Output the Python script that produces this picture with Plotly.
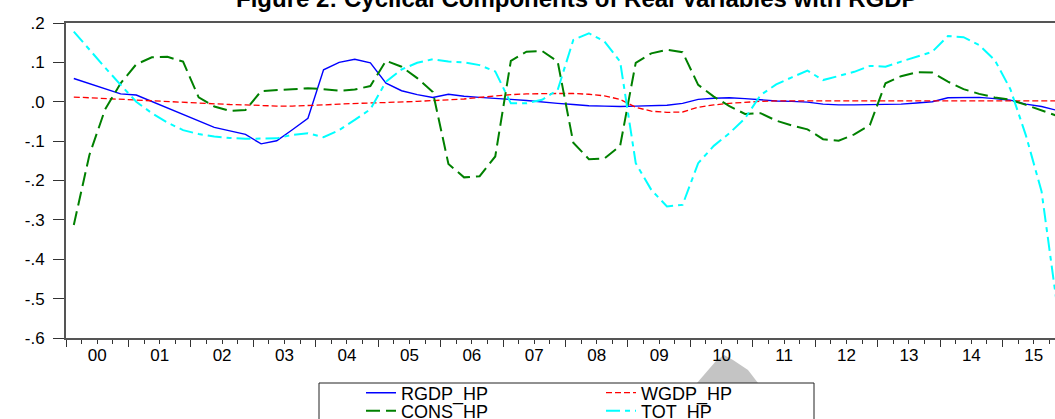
import plotly.graph_objects as go

years = [f"{y:02d}" for y in range(0, 16)]
quarters = list(range(64))  # 2000Q1 .. 2015Q4 as quarter index

rgdp_hp = [0.059, 0.046, 0.033, 0.020, 0.017, 0.001, -0.015, -0.032, -0.048, -0.065, -0.074, -0.083,
           -0.107, -0.099, -0.071, -0.042, 0.081, 0.100, 0.108, 0.099, 0.047, 0.028, 0.018, 0.011,
           0.019, 0.014, 0.011, 0.009, 0.006, 0.003, -0.001, -0.004, -0.007, -0.010, -0.011, -0.012,
           -0.011, -0.010, -0.009, -0.004, 0.006, 0.009, 0.010, 0.008, 0.005, 0.002, 0.001, -0.001,
           -0.006, -0.008, -0.008, -0.007, -0.007, -0.006, -0.003, 0.000, 0.010, 0.011, 0.011, 0.008,
           0.004, -0.006, -0.012, -0.022]

wgdp_hp = [0.012, 0.010, 0.008, 0.006, 0.004, 0.002, 0.000, -0.002, -0.003, -0.005, -0.007, -0.008,
           -0.010, -0.011, -0.011, -0.010, -0.008, -0.006, -0.004, -0.003, -0.002, -0.001, 0.001, 0.003,
           0.005, 0.007, 0.011, 0.015, 0.018, 0.020, 0.021, 0.021, 0.021, 0.019, 0.015, 0.006,
           -0.014, -0.024, -0.027, -0.026, -0.014, -0.008, -0.004, -0.001, 0.001, 0.002, 0.002, 0.002,
           0.002, 0.002, 0.002, 0.002, 0.002, 0.002, 0.002, 0.002, 0.002, 0.002, 0.002, 0.002,
           0.002, 0.002, 0.002, 0.002]

cons_hp = [-0.313, -0.135, -0.020, 0.047, 0.095, 0.113, 0.114, 0.102, 0.011, -0.012, -0.023, -0.021,
           0.027, 0.030, 0.032, 0.034, 0.032, 0.028, 0.031, 0.040, 0.104, 0.089, 0.060, 0.025,
           -0.158, -0.192, -0.189, -0.139, 0.104, 0.127, 0.129, 0.102, -0.104, -0.146, -0.144, -0.112,
           0.099, 0.123, 0.132, 0.126, 0.043, 0.013, -0.011, -0.031, -0.029, -0.048, -0.060, -0.070,
           -0.095, -0.099, -0.083, -0.059, 0.047, 0.065, 0.075, 0.074, 0.051, 0.032, 0.020, 0.011,
           0.005, -0.008, -0.021, -0.036]

tot_hp = [0.178, 0.132, 0.087, 0.043, 0.000, -0.029, -0.053, -0.072, -0.082, -0.088, -0.092, -0.094,
          -0.093, -0.093, -0.084, -0.080, -0.090, -0.072, -0.046, -0.019, 0.051, 0.082, 0.099, 0.108,
          0.102, 0.100, 0.093, 0.077, -0.004, -0.004, 0.005, 0.030, 0.157, 0.174, 0.153, 0.102,
          -0.156, -0.224, -0.266, -0.262, -0.156, -0.112, -0.080, -0.042, 0.017, 0.044, 0.062, 0.079,
          0.055, 0.065, 0.076, 0.091, 0.089, 0.102, 0.115, 0.127, 0.167, 0.164, 0.144, 0.106,
          0.032, -0.086, -0.228, -0.520]

y_ticks = [-0.6, -0.5, -0.4, -0.3, -0.2, -0.1, 0.0, 0.1, 0.2]
y_labels = ["-.6", "-.5", "-.4", "-.3", "-.2", "-.1", ".0", ".1", ".2"]

FONT = "Arial, Liberation Sans, sans-serif"

# layout geometry (pixels)
W, H = 1055, 419
ML, MR, MT, MB = 66, 0, 23, 81
PW, PH = W - ML - MR, H - MT - MB


def px(xp):
    return (xp - ML) / PW


def py(yp):
    return (H - MB - yp) / PH


fig = go.Figure()
fig.add_trace(go.Scatter(x=quarters, y=rgdp_hp, name="RGDP_HP", mode="lines", legend="legend",
                         line=dict(color="#0000FF", width=1.4)))
fig.add_trace(go.Scatter(x=quarters, y=wgdp_hp, name="WGDP_HP", mode="lines", legend="legend2",
                         line=dict(color="#FF0000", width=1.3, dash="6px,3px")))
fig.add_trace(go.Scatter(x=quarters, y=cons_hp, name="CONS_HP", mode="lines", legend="legend3",
                         line=dict(color="#008000", width=2, dash="14px,6px")))
fig.add_trace(go.Scatter(x=quarters, y=tot_hp, name="TOT_HP", mode="lines", legend="legend4",
                         line=dict(color="#00FFFF", width=2, dash="14px,5px,5px,5px")))
# carrier for the year-label axis
fig.add_trace(go.Scatter(x=[None], y=[None], xaxis="x2", showlegend=False, hoverinfo="skip"))

x_range = [-0.5, 62.86]
year_bounds = [-0.5 + 4 * k for k in range(17)]
year_mids = [1.5 + 4 * k for k in range(16)]

leg_common = dict(orientation="v", xanchor="left", yanchor="middle", borderwidth=0,
                  bgcolor="rgba(0,0,0,0)", font=dict(family=FONT, size=18, color="black"))
row1, row2 = 393, 411
col1, col2 = 361, 601

fig.update_layout(
    width=W, height=H,
    margin=dict(l=ML, r=MR, t=MT, b=MB, autoexpand=False),
    paper_bgcolor="white", plot_bgcolor="white",
    font=dict(family=FONT, color="black", size=17),
    showlegend=True,
    xaxis=dict(range=x_range, tickvals=year_bounds, ticktext=[""] * len(year_bounds),
               ticks="outside", ticklen=7, tickwidth=1, tickcolor="#333333",
               minor=dict(dtick=1, tick0=-0.5, ticks="outside", ticklen=4, tickwidth=1, tickcolor="#333333"),
               showline=True, linecolor="#555555", linewidth=2, mirror=True,
               showgrid=False, zeroline=False),
    xaxis2=dict(range=x_range, overlaying="x", anchor="y", side="bottom",
                tickvals=year_mids, ticktext=years, ticks="", ticklabelstandoff=5,
                showline=False, showgrid=False, zeroline=False,
                tickfont=dict(family=FONT, size=17, color="black")),
    yaxis=dict(range=[-0.6, 0.2], tickvals=y_ticks, ticktext=y_labels,
               ticks="outside", ticklen=11, tickwidth=1, tickcolor="#333333",
               ticklabelstandoff=5,
               showline=True, linecolor="#555555", linewidth=2,
               showgrid=False, zeroline=False,
               tickfont=dict(family=FONT, size=17, color="black")),
    legend=dict(x=px(col1), y=py(row1), **leg_common),
    legend2=dict(x=px(col2), y=py(row1), **leg_common),
    legend3=dict(x=px(col1), y=py(row2), **leg_common),
    legend4=dict(x=px(col2), y=py(row2), **leg_common),
)

# legend frame
fig.add_shape(type="rect", xref="paper", yref="paper",
              x0=px(319), x1=px(814), y0=py(383), y1=py(445),
              line=dict(color="#222222", width=1), fillcolor="rgba(0,0,0,0)", layer="above")

# grey blotch near the "10" label in the reference image
pts = [(697, 383), (716, 361), (724, 355), (733, 360), (748, 370), (758, 383)]
path = "M " + " L ".join(f"{px(a):.5f},{py(b):.5f}" for a, b in pts) + " Z"
fig.add_shape(type="path", xref="paper", yref="paper", path=path,
              fillcolor="#c4c4c4", line=dict(width=0), layer="below")

fig.add_annotation(text="<b>Figure 2: Cyclical Components of Real Variables with RGDP</b>",
                   xref="paper", yref="paper", x=px(577), y=py(14),
                   xanchor="center", yanchor="bottom", showarrow=False,
                   font=dict(family=FONT, size=24, color="black"))

fig.write_html("out.html", config={"displayModeBar": False},
               post_script="document.body.style.margin='0px';document.body.style.overflow='hidden';")
